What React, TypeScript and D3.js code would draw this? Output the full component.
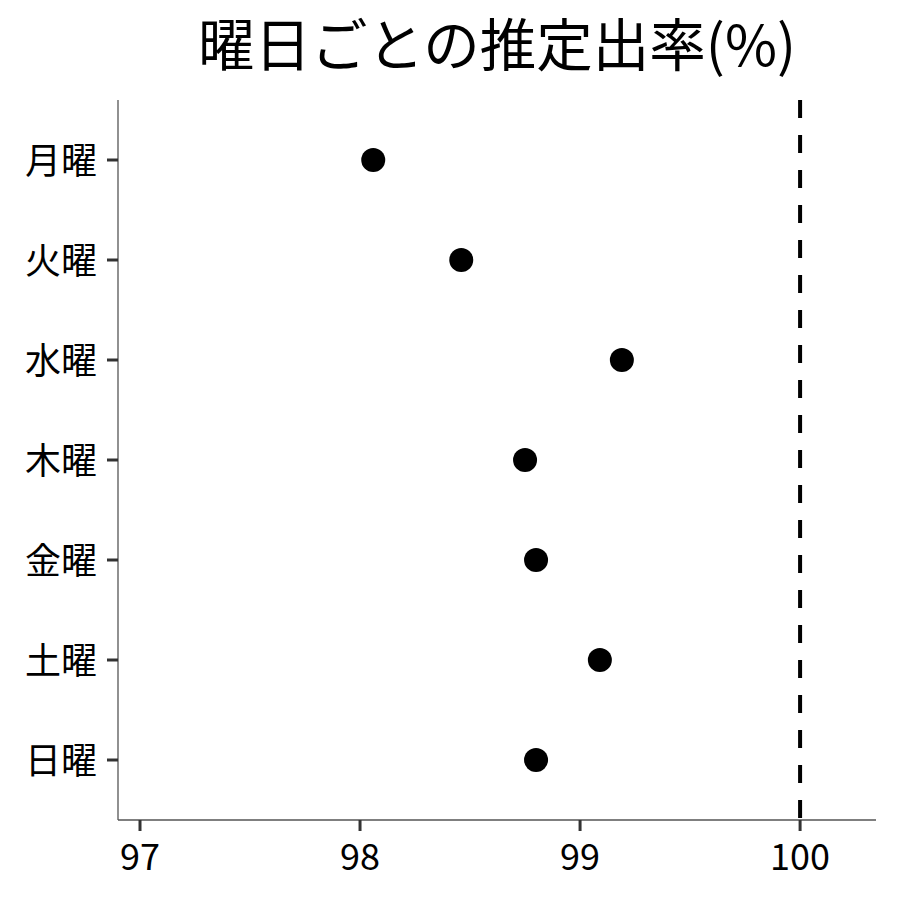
import React from 'react';
import * as d3 from 'd3';

const days = ['月曜', '火曜', '水曜', '木曜', '金曜', '土曜', '日曜'];
const rates = [98.06, 98.46, 99.19, 98.75, 98.80, 99.09, 98.80];
const xTicks = [97, 98, 99, 100];
const refLine = 100;
const title = '曜日ごとの推定出率(%)';

const font = '"Noto Sans CJK JP", "Noto Sans", sans-serif';

const App = () => {
  const width = 900;
  const height = 900;
  const left = 118;
  const right = 876;
  const top = 100;
  const bottom = 820;

  const x = d3.scaleLinear().domain([96.9, 100.345]).range([left, right]);
  // discrete axis with 0.6 expansion on each side, like ggplot
  const y = d3.scaleLinear().domain([0.4, 7.6]).range([top, bottom]);

  return (
    <svg width={width} height={height} style={{ position: 'absolute', left: 0, top: 0, background: '#fff' }}>
      <text x={(left + right) / 2} y={41} textAnchor="middle" dominantBaseline="central"
        fontFamily={font} fontSize={56.5} fill="#000">{title}</text>

      {/* axis lines */}
      <line x1={left} x2={left} y1={top} y2={bottom} stroke="#555" strokeWidth={1.3} />
      <line x1={left} x2={right} y1={bottom} y2={bottom} stroke="#555" strokeWidth={1.3} />

      {/* y ticks and labels */}
      {days.map((d, i) => (
        <g key={d}>
          <line x1={left - 11} x2={left} y1={y(i + 1)} y2={y(i + 1)} stroke="#333" strokeWidth={3} />
          <text x={left - 21} y={y(i + 1) - 2} textAnchor="end" dominantBaseline="central"
            fontFamily={font} fontSize={36} fill="#000">{d}</text>
        </g>
      ))}

      {/* x ticks and labels */}
      {xTicks.map(t => (
        <g key={t}>
          <line x1={x(t)} x2={x(t)} y1={bottom} y2={bottom + 11} stroke="#333" strokeWidth={3} />
          <text x={x(t)} y={854} textAnchor="middle" dominantBaseline="central"
            fontFamily={font} fontSize={36} fill="#000">{t}</text>
        </g>
      ))}

      {/* reference line */}
      <line x1={x(refLine)} x2={x(refLine)} y1={top} y2={bottom} stroke="#000" strokeWidth={4}
        strokeDasharray="18,17" />

      {/* points */}
      {rates.map((r, i) => (
        <circle key={days[i]} cx={x(r)} cy={y(i + 1)} r={12} fill="#000" />
      ))}
    </svg>
  );
};

export default App;
